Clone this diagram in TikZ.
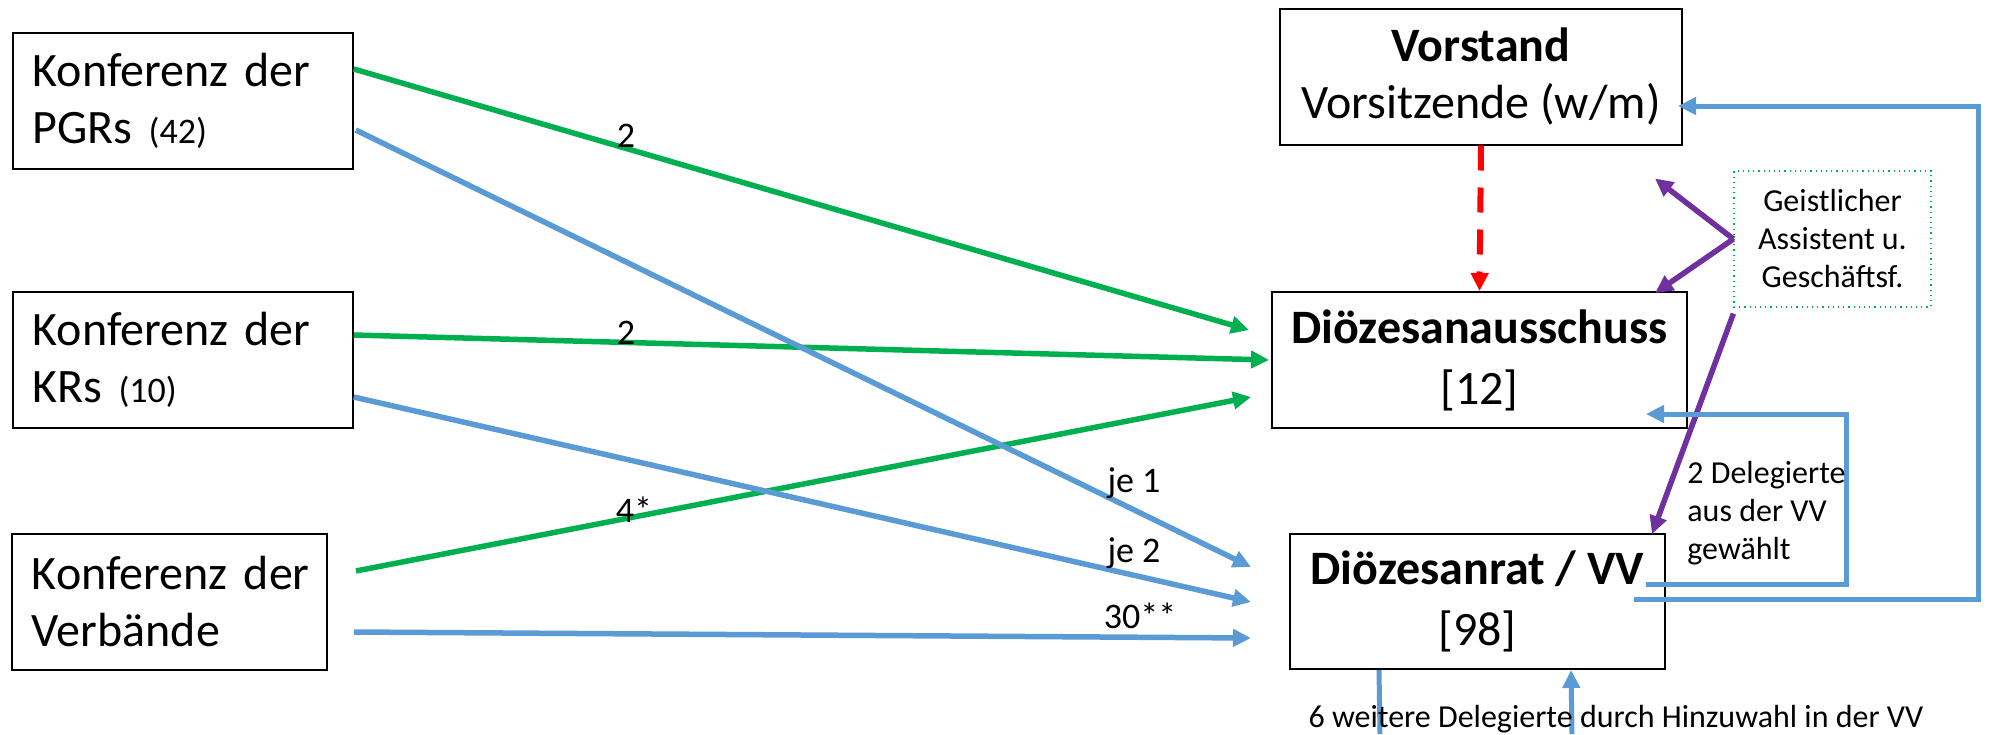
\documentclass[tikz,border=0pt]{standalone}
\usepackage{fontspec}
\setmainfont{Carlito}
\usepackage{xcolor}
\usepackage{tikz}
\usetikzlibrary{arrows.meta,calc}

\definecolor{gruen}{HTML}{00B050}
\definecolor{blau}{HTML}{5B9BD5}
\definecolor{lila}{HTML}{7030A0}

\tikzset{
    kasten/.style={draw, line width=1pt, minimum height=68pt, inner sep=0pt, font=\fontsize{24}{28.5}\selectfont},
    links/.style={kasten, minimum width=170pt, text width=150pt, align=left},
    rechts/.style={kasten, align=center},
    spitze/.style={-{Triangle[length=9pt,width=8.5pt]}},
    gpfeil/.style={draw=gruen, line width=2.75pt, spitze},
    bpfeil/.style={draw=blau, line width=2.75pt, spitze},
    blinie/.style={draw=blau, line width=2.5pt},
    lpfeil/.style={draw=lila, line width=2.75pt, spitze},
    zahl/.style={anchor=base, font=\fontsize{18}{21}\selectfont},
    klein/.style={font=\fontsize{16}{19}\selectfont}
}

\begin{document}
\begin{tikzpicture}[x=0.5pt,y=-0.5pt]
        \useasboundingbox (0,0) rectangle (2013,734);

        \node[links] (pgr) at (182.75,101) {Konferenz der\\PGRs {\fontsize{18}{21}\selectfont(42)}};
        \node[links] (kr) at (182.75,360) {Konferenz der\\KRs {\fontsize{18}{21}\selectfont(10)}};
        \node[links, minimum width=157.5pt, text width=137.5pt] (verb) at (169.5,601.5) {\mbox{Konferenz der}\\Verbände};

        \node[rechts, minimum width=201pt] (vorstand) at (1481,76.5) {\textbf{Vorstand}\\Vorsitzende (w/m)};
        \node[rechts, minimum width=207.5pt, font=\fontsize{24}{30.5}\selectfont] (da) at (1479.5,360) {\textbf{Diözesanausschuss}\\{[}12{]}};
        \node[rechts, minimum width=187.5pt, minimum height=67.5pt, font=\fontsize{24}{30.5}\selectfont] (dr) at (1477.5,601.5) {\textbf{Diözesanrat / VV}\\{[}98{]}};
        \node[draw=gruen, line width=0.6pt, dotted, minimum width=98.5pt, minimum height=68pt, inner sep=0pt, align=center, klein] (gs) at (1832.5,239) {Geistlicher\\Assistent u.\\Geschäftsf.};

        \draw[gpfeil] ($(pgr.east)+(0,-32)$) -- ($(da.west)+(-22,-30)$);
        \draw[gpfeil] ($(kr.east)+(0,-25)$) -- ($(da.west)+(-2,0)$);
        \draw[gpfeil] ($(verb.east)+(28,-30.5)$) -- ($(da.west)+(-20,37)$);
        \draw[bpfeil] ($(pgr.east)+(2,29)$) -- ($(dr.west)+(-38,-34.5)$);
        \draw[bpfeil] ($(kr.east)+(0,37)$) -- ($(dr.west)+(-38,0.5)$);
        \draw[bpfeil] ($(verb.east)+(26,30.5)$) -- ($(dr.west)+(-38,36.5)$);

        \node[zahl] (l1) at (626,147) {2};
        \node[zahl] (l2) at (626,344) {2};
        \node[zahl] (l3) at (634,522) {4*};
        \node[zahl] (l4) at (1134,492) {je 1};
        \node[zahl] (l5) at (1134,562) {je 2};
        \node[zahl] (l6) at (1140,628) {30**};

        \draw[draw=red, line width=3pt, dash pattern=on 12.5pt off 8.5pt, spitze] (vorstand.south) -- (da.north);

        \coordinate (frei) at ($(vorstand.south east)+(-28,33)$);
        \draw[lpfeil] (gs.west) -- (frei);
        \draw[lpfeil] (gs.west) -- ($(da.north east)+(-33,2)$);
        \draw[lpfeil] ($(gs.south west)+(0,6)$) -- ($(dr.north east)+(-14,1)$);

        \coordinate (r1) at (1846,584);
        \coordinate (r2) at (1978,599);
        \draw[blinie, spitze] ($(dr.east)+(-20,-17.5)$) -- (r1) |- ($(da.south east)+(-42,-15)$);
        \draw[blinie, spitze] ($(dr.east)+(-32,-2.5)$) -- (r2) |- ($(vorstand.east)+(-5,29.5)$);

        \node[klein, align=left, anchor=north west, inner sep=0pt] (wahl) at (1687,461) {2 Delegierte\\aus der VV\\gewählt};

        \coordinate (unten1) at (1380,734);
        \coordinate (unten2) at (1572,734);
        \draw[blinie] ($(dr.south west)+(90,0)$) -- (unten1);
        \draw[blinie, spitze] (unten2) -- ($(dr.south west)+(282,0)$);

        \node[klein, anchor=base] (hinzu) at (1616,727) {6 weitere Delegierte durch Hinzuwahl in der VV};
    \end{tikzpicture}
\end{document}
